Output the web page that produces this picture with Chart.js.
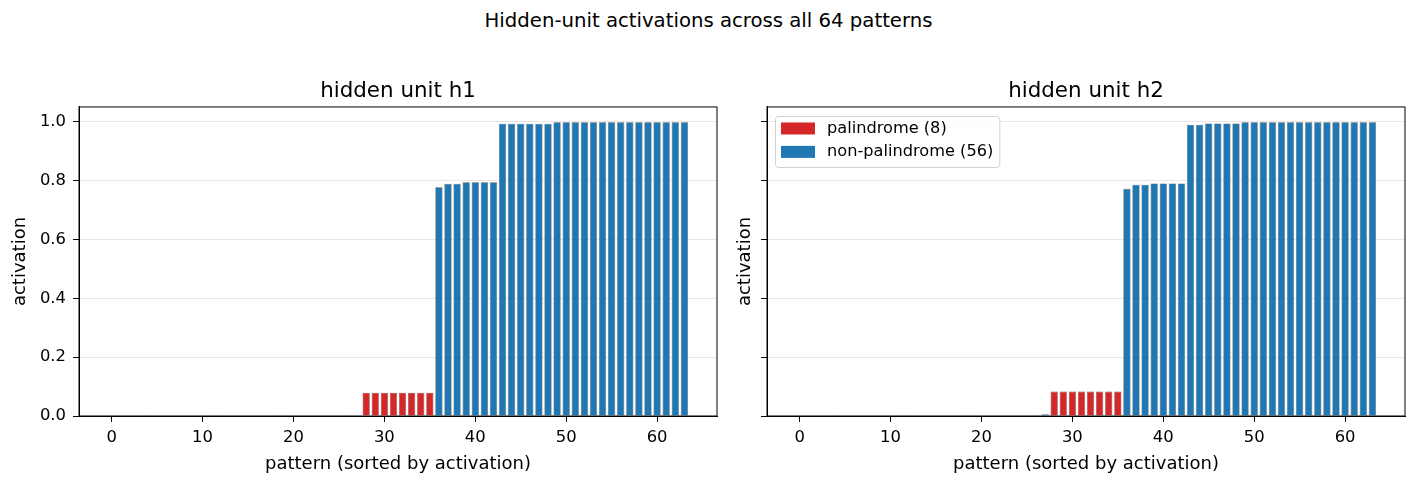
<!DOCTYPE html>
<html>
<head>
<meta charset="utf-8">
<script src="https://cdn.jsdelivr.net/npm/chart.js@4.4.1/dist/chart.umd.min.js"></script>
<style>
  body { margin: 0; background: #fff; font-family: "DejaVu Sans", sans-serif; }
  #page { position: relative; width: 1417px; height: 485px; }
  #suptitle { position: absolute; left: 0; top: 9px; width: 1417px; text-align: center; font-size: 19.7px; line-height: 24px; color: #000; }
  .panel { position: absolute; top: 0; height: 485px; }
  #p1 { left: 0; width: 720px; }
  #p2 { left: 690px; width: 727px; }
</style>
</head>
<body>
<div id="page">
  <div id="suptitle">Hidden-unit activations across all 64 patterns</div>
  <div class="panel" id="p1"><canvas id="h1Chart"></canvas></div>
  <div class="panel" id="p2"><canvas id="h2Chart"></canvas></div>
</div>
<script>
/*  eslint-disable no-undef */
// activations, sorted ascending
const h1Values = [
  0.001, 0.001, 0.001, 0.001, 0.001, 0.001, 0.001, 0.001, 0.001, 0.001,
  0.001, 0.001, 0.001, 0.001, 0.001, 0.001, 0.001, 0.001, 0.001, 0.001,
  0.001, 0.001, 0.001, 0.001, 0.001, 0.001, 0.001, 0.001,
  0.079, 0.079, 0.079, 0.079, 0.079, 0.079, 0.079, 0.079,
  0.777, 0.789, 0.789, 0.794, 0.794, 0.794, 0.794,
  0.993, 0.993, 0.993, 0.993, 0.993, 0.993,
  0.998, 0.998, 0.998, 0.998, 0.998, 0.998, 0.998, 0.998,
  0.998, 0.998, 0.998, 0.998, 0.998, 0.998, 0.998,
];
const h2Values = [
  0.001, 0.001, 0.001, 0.001, 0.001, 0.001, 0.001, 0.001, 0.001, 0.001,
  0.001, 0.001, 0.001, 0.001, 0.001, 0.001, 0.001, 0.001, 0.001, 0.001,
  0.001, 0.001, 0.001, 0.001, 0.001, 0.001, 0.001, 0.006,
  0.083, 0.083, 0.083, 0.083, 0.083, 0.083, 0.083, 0.083,
  0.772, 0.786, 0.786, 0.790, 0.790, 0.790, 0.790,
  0.990, 0.990, 0.994, 0.994, 0.994, 0.994,
  0.998, 0.998, 0.998, 0.998, 0.998, 0.998, 0.998, 0.998,
  0.998, 0.998, 0.998, 0.998, 0.998, 0.998, 0.998,
];
// sorted positions that hold palindromes
const h1Palindromes = [28, 29, 30, 31, 32, 33, 34, 35];
const h2Palindromes = [28, 29, 30, 31, 32, 33, 34, 35];

const xTicks = [0, 10, 20, 30, 40, 50, 60];
const yTicks = [0, 0.2, 0.4, 0.6, 0.8, 1.0];

const red = '#d62728';
const blue = '#1f77b4';
const edge = 'rgba(40,40,40,0.75)';
const tickFont = { family: 'DejaVu Sans', size: 16.4 };
const labelFont = { family: 'DejaVu Sans', size: 18 };

const splitSeries = (values, pal) => {
  const palPts = [];
  const otherPts = [];
  values.forEach((v, i) => {
    if (pal.includes(i)) palPts.push({ x: i, y: v });
    else otherPts.push({ x: i, y: v });
  });
  return { palPts, otherPts };
};

// axes frame, plus a matplotlib style legend in the upper left when asked
const framePlugin = {
  id: 'frame',
  afterDatasetsDraw(chart, args, opts) {
    const { ctx, chartArea: a } = chart;
    ctx.save();
    ctx.strokeStyle = '#000';
    ctx.lineWidth = 1;
    ctx.strokeRect(a.left, a.top, a.right - a.left, a.bottom - a.top);

    if (opts.legend) {
      const sets = chart.data.datasets;
      ctx.font = '16.2px "DejaVu Sans"';
      const textW = Math.max(...sets.map((d) => ctx.measureText(d.label).width));
      const x0 = a.left + 8;
      const y0 = a.top + 9;
      const w = 52 + textW + 6;
      const h = 51;
      ctx.fillStyle = 'rgba(255,255,255,0.8)';
      ctx.strokeStyle = '#d0d0d0';
      ctx.beginPath();
      ctx.roundRect(x0 + 0.5, y0 + 0.5, w, h, 3);
      ctx.fill();
      ctx.stroke();
      sets.forEach((d, i) => {
        const cy = y0 + 12.5 + i * 23.4;
        ctx.fillStyle = d.backgroundColor;
        ctx.fillRect(x0 + 6, cy - 6, 34, 12);
        ctx.fillStyle = '#000';
        ctx.textBaseline = 'middle';
        ctx.textAlign = 'left';
        ctx.fillText(d.label, x0 + 52, cy);
      });
    }
    ctx.restore();
  },
};

const makeChart = (canvasId, title, values, pal, opts) => {
  const { palPts, otherPts } = splitSeries(values, pal);
  return new Chart(document.getElementById(canvasId), {
    type: 'bar',
    data: {
      datasets: [{
        label: `palindrome (${palPts.length})`,
        data: palPts,
        backgroundColor: red,
        borderColor: edge,
        borderWidth: 0.6,
      }, {
        label: `non-palindrome (${otherPts.length})`,
        data: otherPts,
        backgroundColor: blue,
        borderColor: edge,
        borderWidth: 0.6,
      }],
    },
    plugins: [framePlugin],
    options: {
      responsive: true,
      maintainAspectRatio: false,
      animation: false,
      grouped: false,
      barPercentage: 0.8,
      categoryPercentage: 1,
      layout: { padding: { left: 0, right: opts.padRight, top: 78.2, bottom: 0 } },
      plugins: {
        frame: { legend: opts.legend },
        title: {
          display: true,
          fullSize: false,
          text: title,
          color: '#000',
          font: { family: 'DejaVu Sans', size: 21.4, weight: 'normal' },
          padding: { top: 0, bottom: 3.1 },
        },
        legend: { display: false },
        tooltip: { enabled: false },
      },
      scales: {
        x: {
          type: 'linear',
          min: -3.59,
          max: 66.59,
          offset: false,
          afterBuildTicks: (scale) => { scale.ticks = xTicks.map((v) => ({ value: v })); },
          afterFit: (scale) => { scale.height = 69; },
          ticks: { color: '#000', font: tickFont, padding: 6, maxRotation: 0, callback: (v) => String(v) },
          grid: { offset: false, drawOnChartArea: false, drawTicks: true, tickLength: 6, tickColor: '#000' },
          border: { display: true, color: '#000' },
          title: {
            display: true,
            text: 'pattern (sorted by activation)',
            color: '#000',
            font: labelFont,
            padding: { top: 0, bottom: 9.5 },
          },
        },
        y: {
          min: 0,
          max: 1.05,
          z: 1,
          afterBuildTicks: (scale) => { scale.ticks = yTicks.map((v) => ({ value: v })); },
          afterFit: (scale) => { scale.width = opts.yWidth; },
          ticks: { display: opts.yLabels, color: '#000', font: tickFont, padding: 7, callback: (v) => v.toFixed(1) },
          grid: { color: 'rgba(176,176,176,0.3)', lineWidth: 1, drawTicks: true, tickLength: 6, tickColor: '#000' },
          border: { display: true, color: '#000' },
          title: {
            display: true,
            text: 'activation',
            color: '#000',
            font: labelFont,
            padding: { top: opts.yTitlePad, bottom: 0 },
          },
        },
      },
    },
  });
};

document.addEventListener('DOMContentLoaded', () => {
  makeChart('h1Chart', 'hidden unit h1', h1Values, h1Palindromes,
    { padRight: 3, yWidth: 79, yTitlePad: 9.2, yLabels: true, legend: false });
  makeChart('h2Chart', 'hidden unit h2', h2Values, h2Palindromes,
    { padRight: 12, yWidth: 77, yTitlePad: 44.2, yLabels: false, legend: true });
});
</script>
</body>
</html>
